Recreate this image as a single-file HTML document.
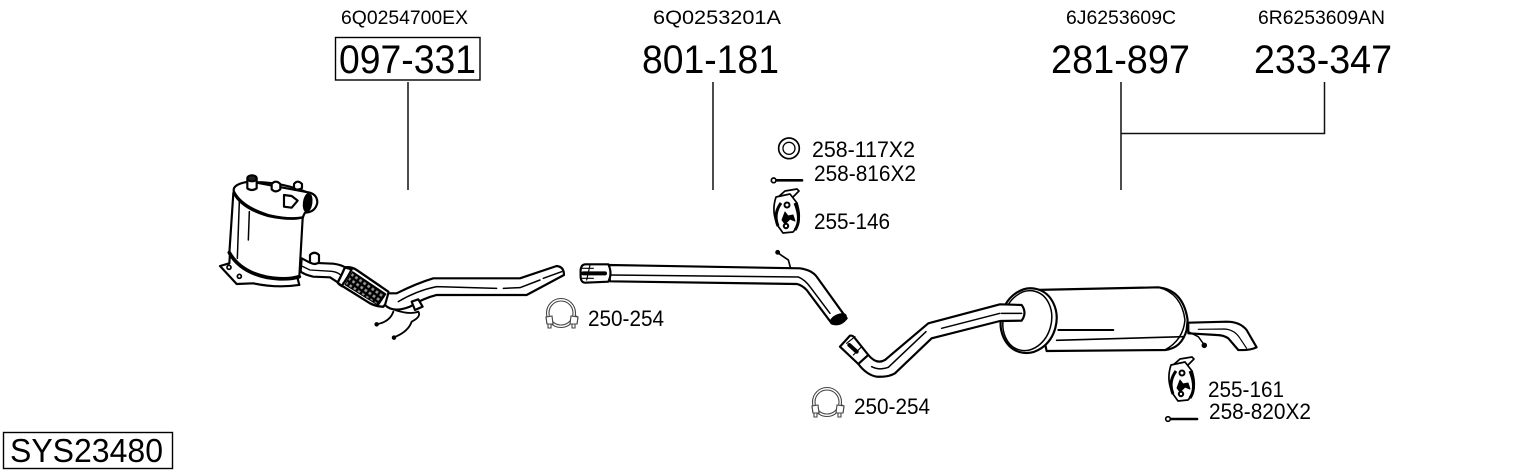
<!DOCTYPE html>
<html><head><meta charset="utf-8"><style>
html,body{margin:0;padding:0;background:#fff;width:1530px;height:474px;overflow:hidden}
svg{display:block}
text{font-family:"Liberation Sans",sans-serif;fill:#000}
.s{font-size:19px}.b{font-size:39.5px}.m{font-size:22px}
.a path,.a ellipse,.a circle,.a line{stroke:#000;stroke-linejoin:round;stroke-linecap:round}
</style></head><body>
<svg width="1530" height="474" viewBox="0 0 1530 474" xmlns="http://www.w3.org/2000/svg">
<defs>
<pattern id="mesh" width="15" height="15" patternUnits="userSpaceOnUse" patternTransform="rotate(35)">
<rect width="15" height="15" fill="#000"/>
<rect x="3.5" y="3.5" width="8" height="8" fill="#999"/>
</pattern>
</defs>
<rect width="1530" height="474" fill="#fff"/>
<!-- part numbers -->
<text class="s" x="341" y="24" textLength="127" lengthAdjust="spacingAndGlyphs">6Q0254700EX</text>
<text class="s" x="653" y="24" textLength="128" lengthAdjust="spacingAndGlyphs">6Q0253201A</text>
<text class="s" x="1066" y="24" textLength="110" lengthAdjust="spacingAndGlyphs">6J6253609C</text>
<text class="s" x="1258" y="24" textLength="127" lengthAdjust="spacingAndGlyphs">6R6253609AN</text>
<rect x="335.5" y="37.5" width="144.5" height="42.5" fill="none" stroke="#000" stroke-width="1.4"/>
<text class="b" x="339" y="73" textLength="137" lengthAdjust="spacingAndGlyphs">097-331</text>
<text class="b" x="642" y="73" textLength="137" lengthAdjust="spacingAndGlyphs">801-181</text>
<text class="b" x="1051" y="73" textLength="139" lengthAdjust="spacingAndGlyphs">281-897</text>
<text class="b" x="1254" y="73" textLength="138" lengthAdjust="spacingAndGlyphs">233-347</text>
<g stroke="#111" stroke-width="1.5" fill="none">
<path d="M408 82V190M713 82V190M1121 82V190M1324.5 82V133.5H1121"/>
</g>
<rect x="3.5" y="432.5" width="169" height="36" fill="none" stroke="#000" stroke-width="1.4"/>
<text x="10" y="462" style="font-size:33px" textLength="153" lengthAdjust="spacingAndGlyphs">SYS23480</text>
<!-- accessory labels -->
<text class="m" x="812" y="157" textLength="103" lengthAdjust="spacingAndGlyphs">258-117X2</text>
<text class="m" x="814" y="181" textLength="102" lengthAdjust="spacingAndGlyphs">258-816X2</text>
<text class="m" x="814" y="229" textLength="76" lengthAdjust="spacingAndGlyphs">255-146</text>
<text class="m" x="588" y="326" textLength="76" lengthAdjust="spacingAndGlyphs">250-254</text>
<text class="m" x="854" y="414" textLength="76" lengthAdjust="spacingAndGlyphs">250-254</text>
<text class="m" x="1208" y="397" textLength="76" lengthAdjust="spacingAndGlyphs">255-161</text>
<text class="m" x="1209" y="419" textLength="102" lengthAdjust="spacingAndGlyphs">258-820X2</text>

<!-- DPF -->
<g class="a" transform="translate(210,160) scale(.3333)" fill="#fff" stroke-width="6.5">
<path d="M275 295L300 308L370 311Q395 314 410 325L385 368L360 352L310 350Q285 345 272 335Z" />
<path d="M275 318L300 330L365 334Q382 336 392 345" fill="none" stroke-width="4"/>
<path d="M30 318L58 310L60 280L95 320L150 345L262 352L268 375Q200 385 130 370L80 372Z"/>
<circle cx="57" cy="322" r="6" stroke-width="5"/><circle cx="88" cy="349" r="6" stroke-width="5"/>
<path d="M70 100L58 280Q90 335 170 350Q230 360 268 350L278 175L300 100Q200 60 110 68Q75 75 70 100Z"/>
<path d="M58 278Q90 335 170 352Q230 362 268 350" fill="none" stroke-width="11"/>
<path d="M72 100Q95 145 175 168Q240 182 278 172" fill="none" stroke-width="7"/>
<path d="M88 125L82 295M118 155L115 240" fill="none" stroke-width="4.5"/>
<path d="M72 95Q65 75 110 66L140 68L300 98Q322 105 322 128Q316 157 285 158L278 172Q240 180 175 165Q95 140 72 95Z"/>
<ellipse cx="293" cy="128" rx="11" ry="26" fill="#000" transform="rotate(8 293 128)"/>
<path d="M222 105L245 108L263 122L245 143L222 140Z" stroke-width="6.5"/>
<path d="M112 58V85Q125 95 140 85V58Z"/><ellipse cx="126" cy="55" rx="14" ry="9" fill="#222"/>
<path d="M185 72V88Q197 100 211 88V72Q197 58 185 72Z"/><path d="M252 72V84Q263 94 276 84V72Q263 58 252 72Z"/>
<path d="M300 285V307Q313 317 327 307V285Q313 272 300 285Z"/>
<!-- flex -->
<path d="M405 322Q425 320 440 330L535 395Q540 420 520 440Q500 440 480 430L400 380Q380 370 385 365Q400 345 405 322Z" stroke-width="7"/>
<path d="M428 335L528 402L505 436L405 374Z" fill="url(#mesh)" stroke-width="3"/>
<path d="M405 322Q395 345 383 368L395 378Q415 350 425 328Z" stroke-width="7"/>
<!-- pipe -->
<path d="M535 400L560 400Q620 370 670 355L930 355L1040 318Q1062 320 1062 345L950 405L680 405Q640 415 600 440Q550 460 525 435Z"/>
<path d="M565 425Q620 392 680 380L860 385M880 385L930 383L990 360M1000 355L1055 335" fill="none" stroke-width="4.5"/>
<path d="M550 455Q540 485 500 493M555 450Q600 465 625 455Q635 470 605 485Q595 515 552 532" fill="none" stroke-width="5.5"/>
<circle cx="500" cy="493" r="3.5" fill="#000"/><circle cx="552" cy="533" r="3.5" fill="#000"/>
<path d="M605 425L625 418L638 440L615 450Z"/>
</g>

<!-- mid pipe + accessories -->
<g class="a" transform="translate(530,130) scale(.3333)" fill="#fff" stroke-width="6.5">
<circle cx="777" cy="55" r="31" stroke-width="5"/><circle cx="777" cy="55" r="18" stroke-width="4"/>
<path d="M730 151H816" stroke-width="8" fill="none"/><circle cx="731" cy="151" r="7" stroke-width="5"/>
<path d="M235 405L810 415Q845 420 860 440L950 565Q930 590 905 580L830 480Q815 465 800 462L240 454Z"/>
<path d="M240 435L805 441Q825 450 840 470L900 550" fill="none" stroke-width="4.5"/>
<ellipse cx="925" cy="567" rx="24" ry="11" fill="#000" transform="rotate(-25 925 567)"/>
<path d="M235 403L165 403Q150 405 152 430Q150 458 165 458L235 455Q248 430 235 403Z"/>
<path d="M160 430H225" stroke-width="12" fill="none"/>
<path d="M155 415H190M155 445H190M180 405L170 450" fill="none" stroke-width="3.5"/>
<path d="M742 367L757 378L775 390L782 415" fill="none" stroke-width="5"/>
<circle cx="743" cy="367" r="4" fill="#000"/>
</g>
<!-- clamps -->
<g fill="#fff" stroke="#444" stroke-width="1.1">
<g>
<path d="M546 317L551 314L552 324H547Z"/><path d="M578 317L572 314L571 324H577Z"/>
<path d="M548 324V328H551V324M572 324V328H575V324"/>
<circle cx="561" cy="313" r="14.5"/><circle cx="561" cy="313" r="12" fill="none"/>
<path d="M546 317L552 316L553 324H547ZM578 317L571 316L570 324H577Z"/>
</g>
<g transform="translate(266,89)">
<path d="M546 317L551 314L552 324H547Z"/><path d="M578 317L572 314L571 324H577Z"/>
<path d="M548 324V328H551V324M572 324V328H575V324"/>
<circle cx="561" cy="313" r="14.5"/><circle cx="561" cy="313" r="12" fill="none"/>
<path d="M546 317L552 316L553 324H547ZM578 317L571 316L570 324H577Z"/>
</g>
</g>
<!-- hangers -->
<g fill="#fff" stroke="#000" stroke-width="1.7" stroke-linejoin="round">
<g>
<path d="M777 198L785 191L797 189L799 191L790 200Z"/>
<path d="M776 197L790 194L797 203Q803 222 793 232L783 233L778 226Q771 212 776 197Z"/>
<path d="M781 203Q773 214 778 226" fill="none" stroke-width="3"/>
<path d="M795 203Q802 220 795 230" fill="none" stroke-width="3"/>
<path d="M785 212L788 216L793 215L795 221L790 219L785 224L782 220Z" fill="#000" stroke-width="1"/>
<circle cx="787" cy="205" r="2.5" stroke-width="2"/><circle cx="786" cy="226" r="2.2" stroke-width="2"/>
</g>
<g transform="translate(395,168)">
<path d="M777 198L785 191L797 189L799 191L790 200Z"/>
<path d="M776 197L790 194L797 203Q803 222 793 232L783 233L778 226Q771 212 776 197Z"/>
<path d="M781 203Q773 214 778 226" fill="none" stroke-width="3"/>
<path d="M795 203Q802 220 795 230" fill="none" stroke-width="3"/>
<path d="M785 212L788 216L793 215L795 221L790 219L785 224L782 220Z" fill="#000" stroke-width="1"/>
<circle cx="787" cy="205" r="2.5" stroke-width="2"/><circle cx="786" cy="226" r="2.2" stroke-width="2"/>
</g>
</g>
<!-- rear section -->
<g class="a" transform="translate(800,270) scale(.3333)" fill="#fff" stroke-width="6.5">
<path d="M1165 158L1280 155Q1320 155 1340 180L1370 232Q1350 242 1315 240L1285 205Q1270 195 1250 195L1165 190Z"/>
<path d="M1195 178L1275 177Q1305 180 1320 205L1340 235" fill="none" stroke-width="3.5"/>
<path d="M700 60L1075 52Q1150 60 1163 150L1160 180Q1145 235 1095 240L740 243Z"/>
<path d="M770 211L1150 200" fill="none" stroke-width="5"/>
<path d="M775 180H940" fill="none" stroke-width="6"/>
<path d="M1075 52Q1145 70 1155 150Q1150 210 1095 240" fill="none" stroke-width="4.5"/>
<path d="M1165 185L1195 200L1213 225" fill="none" stroke-width="4.5"/><circle cx="1213" cy="226" r="5" fill="#000"/>
<ellipse cx="686" cy="152" rx="83" ry="98" transform="rotate(15 686 152)"/>
<ellipse cx="682" cy="152" rx="72" ry="91" transform="rotate(15 682 152)" stroke-width="4.5"/>
<path d="M120 230L150 197Q158 195 165 205L205 255Q230 285 255 270L385 160L600 103L665 105Q682 128 665 152L600 153L395 205L285 310Q265 322 230 320Q200 315 175 282Z"/>
<path d="M205 255L175 282" fill="none"/>
<path d="M215 290Q240 302 265 292L378 185M425 175L600 130M605 130L665 130" fill="none" stroke-width="4.5"/>
<path d="M148 225L170 245" stroke-width="12" fill="none"/>
<path d="M140 220L165 200M160 255L185 230" fill="none" stroke-width="3.5"/>
</g>
<g class="a" fill="#fff">
<path d="M1170 419H1197" stroke-width="2.6" fill="none"/><circle cx="1168" cy="419" r="2.3" stroke-width="1.6"/>
</g>
</svg>
</body></html>
